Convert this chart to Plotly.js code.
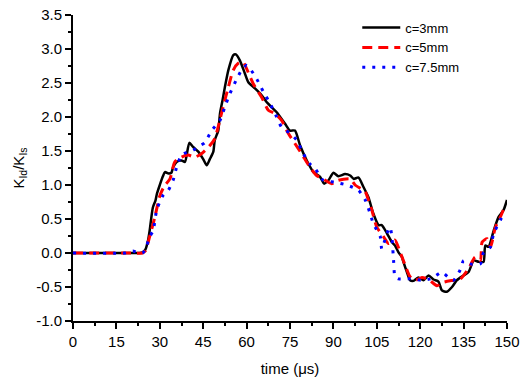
<!DOCTYPE html>
<html>
<head>
<meta charset="utf-8">
<script src="https://cdn.plot.ly/plotly-3.0.1.min.js"></script>
<style>html,body{margin:0;padding:0;background:#fff;}#chart{width:521px;height:377px;}</style>
</head>
<body>
<div id="chart"></div>
<script>
// Series names
const seriesNames = ["c=3mm", "c=5mm", "c=7.5mm"];

// c=3mm (black, solid)
const x3 = [0,10,20,23,24,25,26,26.5,27.6,28.5,29,30,31,31.8,33,34,34.6,35.8,37.5,38.7,40.2,41.5,43.3,45,46.2,47.3,48.5,49,50.2,50.8,51.7,52.5,53.7,55.4,56.3,57.7,59.4,60.6,62.9,65.2,66.9,68.5,70.4,73.3,75,76.7,78.5,80.8,83.1,85.4,86.8,88.3,90,91.7,94,95.8,97,98.7,100.4,102.1,103.8,105.6,106.7,108.5,110.2,111.3,112.5,113.7,114.2,115.4,116.5,117.7,119.4,121.1,122.9,124.6,126.3,127.5,129.2,131,132.7,135,136.7,138.5,140.2,141.9,142.5,143.6,145.4,147.1,148.8,150];
const y3 = [0,0,0,0,0.01,0.05,0.2,0.33,0.67,0.77,0.87,1.0,1.12,1.19,1.17,1.18,1.26,1.34,1.36,1.34,1.62,1.56,1.49,1.38,1.29,1.38,1.49,1.66,1.80,2.05,2.25,2.44,2.69,2.91,2.92,2.83,2.64,2.51,2.42,2.32,2.22,2.15,2.07,1.90,1.80,1.80,1.58,1.36,1.19,1.12,1.02,1.07,1.18,1.13,1.16,1.14,1.09,1.11,0.97,0.82,0.58,0.41,0.41,0.29,0.16,0.11,0.01,-0.06,-0.13,-0.28,-0.40,-0.41,-0.36,-0.40,-0.33,-0.39,-0.42,-0.55,-0.57,-0.50,-0.40,-0.33,-0.28,-0.11,-0.13,-0.13,0.11,0.09,0.33,0.53,0.63,0.78];

// c=5mm (red, dashed)
const x5 = [0,10,20,24,25,26.5,28.3,30,31.5,33.5,35.2,37.5,39.8,42.1,44.4,47.3,49,50.2,51.9,53.7,55.4,57.1,58.8,60,62.3,65.2,67.5,69.8,72.1,74.4,76.7,79,81.9,84.2,86,89.4,91.7,95.8,97.5,101,102.1,103.3,105,107.3,109,110.2,111.3,113.1,114.8,116.5,118.3,120.6,122.9,125.8,128.1,131.5,133.9,136.7,139,140.8,141.4,143.1,144.3,146,147.7,149.4];
const y5 = [0,0,0,0,0.03,0.24,0.53,0.84,0.98,1.09,1.34,1.41,1.44,1.41,1.46,1.58,1.68,1.86,2.15,2.44,2.69,2.79,2.81,2.71,2.49,2.29,2.10,2.05,1.95,1.76,1.61,1.46,1.26,1.14,1.10,1.02,1.07,1.09,1.00,0.90,0.78,0.63,0.38,0.24,0.14,0.16,0.19,0.01,-0.18,-0.35,-0.40,-0.36,-0.39,-0.48,-0.43,-0.40,-0.38,-0.23,-0.06,-0.11,0.16,0.21,0.09,0.38,0.53,0.70];

// c=7.5mm (blue, dotted)
const x75 = [0,18,19.5,20.7,22,24,25,26.5,27.7,28.9,30,31.2,32.9,34.6,35.8,37.5,39.8,41.5,43.9,45.5,47.9,50.8,52.5,54.2,56.6,58.3,60,61.2,63.5,65.8,68.1,70.4,72.1,75,77.3,79.6,81.9,83.7,86.5,90.6,94.6,98.7,101,102.7,103.8,106.2,106.7,107.5,108.5,109.6,110.2,110.8,111.3,112.5,116.5,120.6,123.5,125.5,127.5,129.5,131.5,133.8,135,137.3,140.8,141.9,144.3,145.4,147.7,148.8];
const y75 = [0,0,0.02,0.03,0.01,0,0.05,0.24,0.33,0.63,0.75,0.85,0.92,1.07,1.26,1.44,1.49,1.51,1.58,1.62,1.80,1.95,2.15,2.34,2.56,2.69,2.76,2.71,2.56,2.37,2.20,2.00,1.85,1.76,1.66,1.46,1.31,1.24,1.07,1.04,1.00,0.92,0.78,0.58,0.43,0.24,0.06,0.15,0.29,0.38,0.24,-0.11,-0.35,-0.38,-0.38,-0.40,-0.38,-0.33,-0.28,-0.35,-0.40,-0.25,-0.11,-0.16,-0.16,0.01,0.09,0.29,0.48,0.60];

// Axis ticks
const xTicks = [0,15,30,45,60,75,90,105,120,135,150];
const yTicks = [-1.0,-0.5,0.0,0.5,1.0,1.5,2.0,2.5,3.0,3.5];

const FONT = "Liberation Sans, Arial, sans-serif";

const traces = [
  {x: x3, y: y3, name: seriesNames[0], mode: "lines",
   line: {color: "#000000", width: 2.5, shape: "spline", smoothing: 0.6}},
  {x: x5, y: y5, name: seriesNames[1], mode: "lines",
   line: {color: "#ff0000", width: 3, dash: "10px,6px", shape: "spline", smoothing: 0.6}},
  {x: x75, y: y75, name: seriesNames[2], mode: "lines",
   line: {color: "#0000ff", width: 3, dash: "3px,7px", shape: "spline", smoothing: 0.6}}
];

const layout = {
  width: 521, height: 377,
  margin: {l: 73, r: 14, t: 15, b: 56},
  paper_bgcolor: "#ffffff", plot_bgcolor: "#ffffff",
  font: {family: FONT, size: 15, color: "#000"},
  showlegend: true,
  legend: {x: 0.655, y: 1.008, xanchor: "left", yanchor: "top",
           font: {family: FONT, size: 13, color: "#000"},
           bgcolor: "rgba(0,0,0,0)", borderwidth: 0, itemwidth: 38, tracegroupgap: 0},
  xaxis: {
    range: [0, 150], tickvals: xTicks, ticktext: xTicks.map(String),
    showline: true, linecolor: "#000", linewidth: 2, mirror: false,
    ticks: "outside", ticklen: 6, tickwidth: 2, tickcolor: "#000",
    minor: {dtick: 7.5, tick0: 0, ticks: "outside", ticklen: 3, tickwidth: 2, tickcolor: "#000"},
    showgrid: false, zeroline: false,
    tickfont: {family: FONT, size: 15, color: "#000"},
    title: {text: "time (\u03bcs)", font: {family: FONT, size: 15, color: "#000"}, standoff: 14}
  },
  yaxis: {
    range: [-1.0, 3.5], tickvals: yTicks, ticktext: yTicks.map(v => v.toFixed(1)),
    showline: true, linecolor: "#000", linewidth: 2, mirror: false,
    ticks: "outside", ticklen: 6, tickwidth: 2, tickcolor: "#000",
    minor: {dtick: 0.25, tick0: 0, ticks: "outside", ticklen: 3, tickwidth: 2, tickcolor: "#000"},
    showgrid: false, zeroline: false,
    tickfont: {family: FONT, size: 15, color: "#000"},
    title: {text: "K<sub>Id</sub>/K<sub>Is</sub>", font: {family: FONT, size: 15, color: "#000"}, standoff: 8}
  }
};

Plotly.newPlot("chart", traces, layout, {displayModeBar: false, staticPlot: true});
</script>
</body>
</html>
